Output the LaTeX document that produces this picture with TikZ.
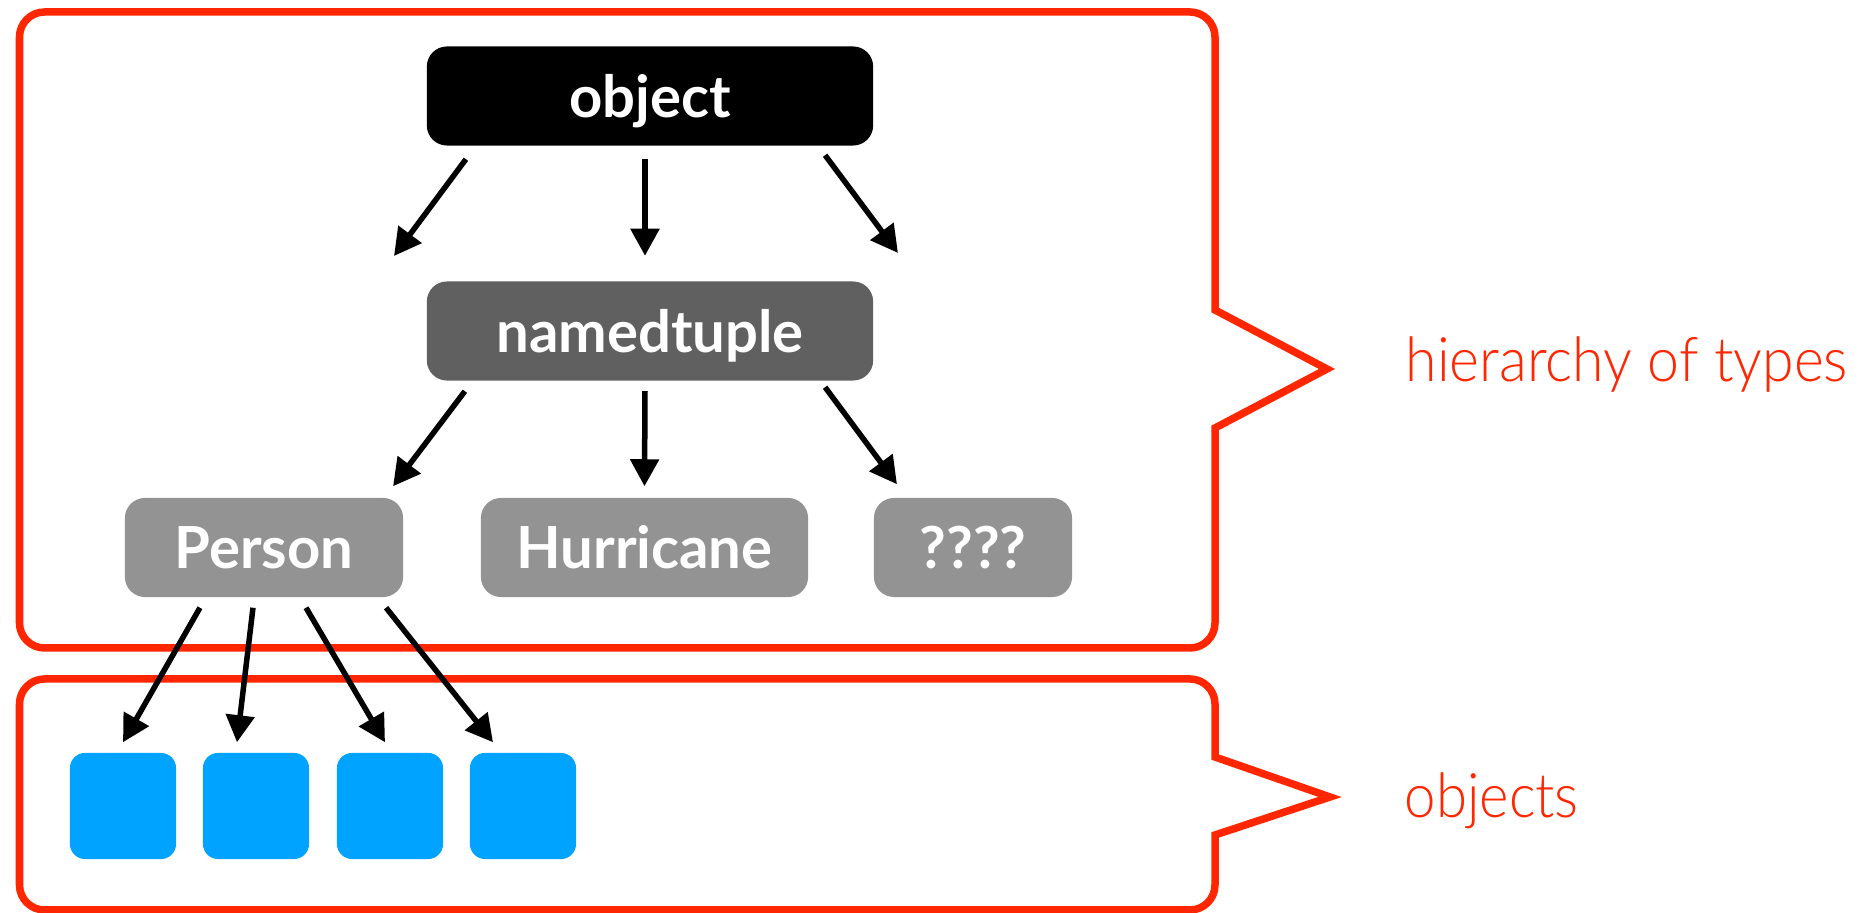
\documentclass[tikz,border=0pt]{standalone}
\usepackage{fontspec}
\setmainfont{Lato}
\newfontfamily\lightfont{Lato Light}
\usetikzlibrary{arrows.meta}
\definecolor{redline}{RGB}{255,38,0}
\definecolor{bluebox}{RGB}{0,163,255}
\definecolor{darkbox}{RGB}{96,96,96}
\definecolor{graybox}{RGB}{147,147,147}
\begin{document}
\begin{tikzpicture}[x=0.01cm,y=-0.01cm,
  outline/.style={draw=redline,line width=0.075cm,line join=miter},
  typebox/.style={rectangle,rounded corners=0.2cm,text=white,font=\bfseries\fontsize{16.5}{19}\selectfont,inner sep=0pt,minimum height=0.99cm,text height=0.52cm,text depth=0.10cm},
  objbox/.style={rectangle,rounded corners=0.15cm,fill=bluebox,minimum width=1.06cm,minimum height=1.06cm,inner sep=0pt},
  arr/.style={line width=0.055cm,-{Triangle[length=0.27cm,width=0.28cm]}},
  note/.style={text=redline,font=\lightfont\fontsize{17.5}{20}\selectfont,anchor=base west,inner sep=0pt}]
\useasboundingbox (0,0) rectangle (1862,913);
% outlines
\draw[outline] (1215,428) -- (1327,369) -- (1215,310) [rounded corners=0.25cm] -- (1215,12) -- (19.5,12) -- (19.5,648) -- (1215,648) [sharp corners] -- cycle;
\draw[outline] (1215,835) -- (1330,797) -- (1215,757) [rounded corners=0.25cm] -- (1215,679) -- (19.5,679) -- (19.5,910) -- (1215,910) [sharp corners] -- cycle;
% type nodes
\node[typebox,fill=black,minimum width=4.46cm] (object) at (650,96) {object};
\node[typebox,fill=darkbox,minimum width=4.46cm] (namedtuple) at (650,331) {namedtuple};
\node[typebox,fill=graybox,minimum width=2.78cm] (person) at (264,547.5) {Person};
\node[typebox,fill=graybox,minimum width=3.27cm] (hurricane) at (644.5,547.5) {Hurricane};
\node[typebox,fill=graybox,minimum width=1.98cm] (unknown) at (973,547.5) {????};
% objects
\node[objbox] (b1) at (123,806) {};
\node[objbox] (b2) at (256,806) {};
\node[objbox] (b3) at (390,806) {};
\node[objbox] (b4) at (523,806) {};
% free ends
\coordinate (freeL) at (394,256);
\coordinate (freeR) at (898,253);
% arrows from object
\draw[arr] ([xshift=-1.84cm,yshift=-0.13cm]object.south) -- (freeL);
\draw[arr] ([xshift=-0.05cm,yshift=-0.13cm]object.south) -- ([xshift=-0.05cm,yshift=0.25cm]namedtuple.north);
\draw[arr] ([xshift=1.75cm,yshift=-0.09cm]object.south) -- (freeR);
% arrows from namedtuple
\draw[arr] ([xshift=-1.85cm,yshift=-0.10cm]namedtuple.south) -- ([xshift=1.29cm,yshift=0.11cm]person.north);
\draw[arr] ([xshift=-0.05cm,yshift=-0.10cm]namedtuple.south) -- ([yshift=0.11cm]hurricane.north);
\draw[arr] ([xshift=1.75cm,yshift=-0.06cm]namedtuple.south) -- ([xshift=-0.76cm,yshift=0.13cm]unknown.north);
% arrows from Person
\draw[arr] ([xshift=-0.64cm,yshift=-0.10cm]person.south) -- ([yshift=0.10cm]b1.north);
\draw[arr] ([xshift=-0.11cm,yshift=-0.10cm]person.south) -- ([xshift=-0.19cm,yshift=0.10cm]b2.north);
\draw[arr] ([xshift=0.42cm,yshift=-0.10cm]person.south) -- ([xshift=-0.05cm,yshift=0.10cm]b3.north);
\draw[arr] ([xshift=1.22cm,yshift=-0.10cm]person.south) -- ([xshift=-0.30cm,yshift=0.10cm]b4.north);
% labels
\node[note] (lblTypes) at (1405,382) {\resizebox{4.42cm}{\height}{hierarchy of types}};
\node[note] (lblObjects) at (1404,818) {\resizebox{1.74cm}{\height}{objects}};
\end{tikzpicture}
\end{document}
